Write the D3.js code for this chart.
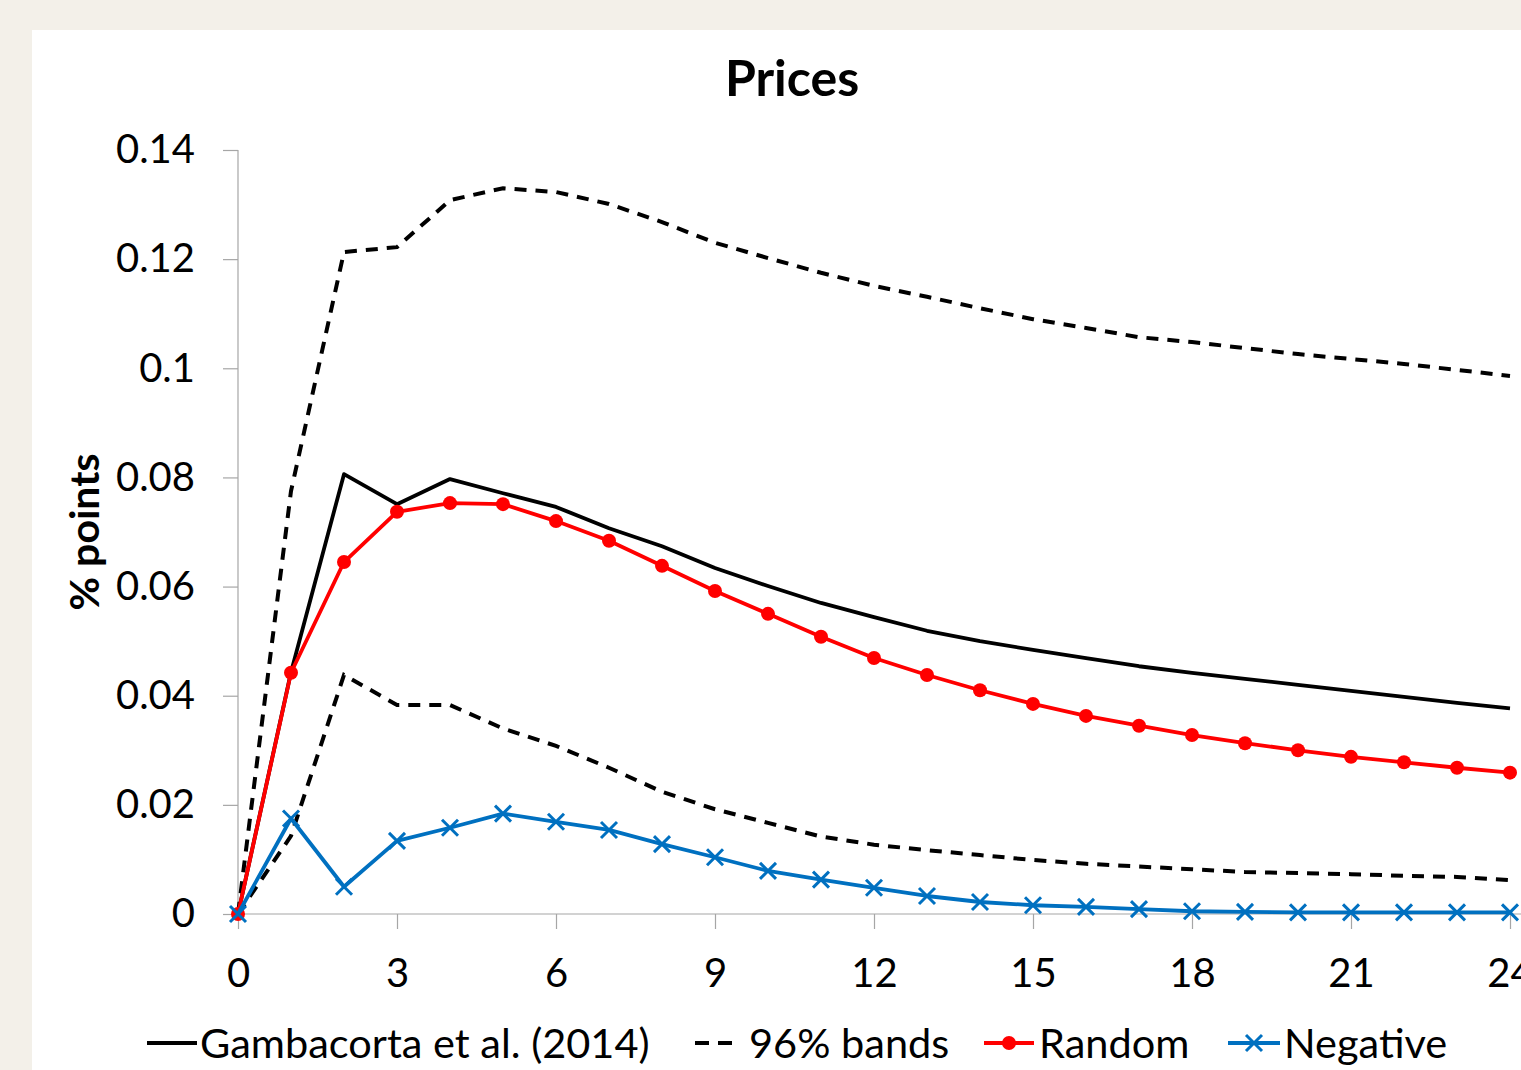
<!DOCTYPE html>
<html>
<head>
<meta charset="utf-8">
<script src="https://cdn.jsdelivr.net/npm/d3@7"></script>
<style>
  html, body { margin: 0; padding: 0; background: #f3f0e9; }
  svg { display: block; }
  text { font-family: Lato, "Open Sans", sans-serif; fill: #000; }
</style>
</head>
<body>
<svg id="chart" width="1521" height="1070"></svg>
<script>
// Impulse responses of prices, months 0..24 (% points)
const months = d3.range(0, 25);

const gambacorta = [0, 0.0443, 0.0806, 0.0751, 0.0797, 0.0771, 0.0746, 0.0707, 0.0674, 0.0634,
  0.0601, 0.0570, 0.0544, 0.0519, 0.0500, 0.0484, 0.0469, 0.0454, 0.0442, 0.0431,
  0.0420, 0.0409, 0.0398, 0.0387, 0.0377];

const bandUpper = [0, 0.0775, 0.1213, 0.1222, 0.1308, 0.1330, 0.1323, 0.1301, 0.1268, 0.1230,
  0.1202, 0.1175, 0.1151, 0.1131, 0.1110, 0.1090, 0.1074, 0.1057, 0.1048, 0.1037,
  0.1026, 0.1017, 0.1008, 0.0997, 0.0986];

const bandLower = [0, 0.0143, 0.0438, 0.0383, 0.0383, 0.0340, 0.0308, 0.0268, 0.0224, 0.0192,
  0.0167, 0.0142, 0.0127, 0.0117, 0.0108, 0.0099, 0.0092, 0.0087, 0.0082, 0.0077,
  0.0075, 0.0073, 0.0070, 0.0068, 0.0062];

const random = [0, 0.0442, 0.0645, 0.0737, 0.0753, 0.0751, 0.0720, 0.0684, 0.0638, 0.0592,
  0.0550, 0.0508, 0.0469, 0.0438, 0.0410, 0.0385, 0.0363, 0.0345, 0.0328, 0.0313,
  0.0300, 0.0288, 0.0278, 0.0268, 0.0259];

const negative = [0, 0.0175, 0.0050, 0.0134, 0.0158, 0.0184, 0.0169, 0.0154, 0.0128, 0.0104,
  0.0079, 0.0063, 0.0048, 0.0033, 0.0022, 0.0016, 0.0013, 0.0009, 0.0005, 0.0004,
  0.0003, 0.0003, 0.0003, 0.0003, 0.0003];

const xTicks = [0, 3, 6, 9, 12, 15, 18, 21, 24];
const yTicks = [0, 0.02, 0.04, 0.06, 0.08, 0.1, 0.12, 0.14];
const legendLabels = ["Gambacorta et al. (2014)", "96% bands", "Random", "Negative"];

const svg = d3.select("#chart");

// white chart area
svg.append("rect").attr("x", 32).attr("y", 30).attr("width", 1600).attr("height", 1100).attr("fill", "#fff");

const x = d3.scaleLinear().domain([0, 24]).range([238, 1510]);
const y = d3.scaleLinear().domain([0, 0.14]).range([914, 150]);

const axisColor = "#a6a6a6";

// y axis
const yAxis = svg.append("g").attr("transform", "translate(238,0)")
  .call(d3.axisLeft(y).tickValues(yTicks).tickSize(15).tickPadding(28)
    .tickFormat(d => d === 0 ? "0" : String(+d.toFixed(2))));
yAxis.select(".domain").attr("stroke", axisColor).attr("d", `M0,${y(0.14)}V${y(0)}`).attr("stroke-width", 1.2);
yAxis.selectAll(".tick line").attr("stroke", axisColor).attr("stroke-width", 1.2);
yAxis.selectAll(".tick text").attr("font-size", 40).attr("font-family", "Lato, sans-serif").attr("fill", "#000");

// x axis
const xAxis = svg.append("g").attr("transform", `translate(0,${y(0)})`)
  .call(d3.axisBottom(x).tickValues(xTicks).tickSize(15).tickPadding(30).tickFormat(d3.format("d")));
xAxis.select(".domain").attr("stroke", axisColor).attr("d", `M${x(0)},0H1521`).attr("stroke-width", 1.2);
xAxis.selectAll(".tick line").attr("stroke", axisColor).attr("stroke-width", 1.2);
xAxis.selectAll(".tick text").attr("font-size", 40).attr("font-family", "Lato, sans-serif").attr("fill", "#000");

// title
svg.append("text").attr("x", 792).attr("y", 96).attr("text-anchor", "middle")
  .attr("font-size", 50).attr("font-weight", "bold").text("Prices");

// y axis title
svg.append("text").attr("transform", "translate(99,532) rotate(-90)").attr("text-anchor", "middle")
  .attr("font-size", 41).attr("font-weight", "bold").text("% points");

const line = d3.line().x((d, i) => x(months[i])).y(d => y(d));

const plot = svg.append("g");

plot.append("path").datum(bandUpper).attr("d", line).attr("fill", "none")
  .attr("stroke", "#000").attr("stroke-width", 4).attr("stroke-dasharray", "12,9");
plot.append("path").datum(bandLower).attr("d", line).attr("fill", "none")
  .attr("stroke", "#000").attr("stroke-width", 4).attr("stroke-dasharray", "12,9");
plot.append("path").datum(gambacorta).attr("d", line).attr("fill", "none")
  .attr("stroke", "#000").attr("stroke-width", 3.8).attr("stroke-linejoin", "round");

plot.append("path").datum(random).attr("d", line).attr("fill", "none")
  .attr("stroke", "#ff0000").attr("stroke-width", 3.8).attr("stroke-linejoin", "round");
plot.selectAll(".rdot").data(random).join("circle").attr("class", "rdot")
  .attr("cx", (d, i) => x(months[i])).attr("cy", d => y(d)).attr("r", 7).attr("fill", "#ff0000");

const blue = "#0070c0";
plot.append("path").datum(negative).attr("d", line).attr("fill", "none")
  .attr("stroke", blue).attr("stroke-width", 3.8).attr("stroke-linejoin", "round");
const cross = (cx, cy, s) => `M${cx - s},${cy - s}L${cx + s},${cy + s}M${cx - s},${cy + s}L${cx + s},${cy - s}`;
plot.selectAll(".bx").data(negative).join("path").attr("class", "bx")
  .attr("d", (d, i) => cross(x(months[i]), y(d), 8)).attr("stroke", blue).attr("stroke-width", 3).attr("fill", "none");

// legend
const ly = 1043;
const lfs = 41.5;
const lg = svg.append("g");
lg.append("line").attr("x1", 147).attr("x2", 197).attr("y1", ly).attr("y2", ly).attr("stroke", "#000").attr("stroke-width", 3.8);
lg.append("text").attr("x", 200).attr("y", ly + 15).attr("font-size", lfs).text(legendLabels[0]);

lg.append("line").attr("x1", 695).attr("x2", 740).attr("y1", ly).attr("y2", ly).attr("stroke", "#000")
  .attr("stroke-width", 4).attr("stroke-dasharray", "14,9");
lg.append("text").attr("x", 749).attr("y", ly + 15).attr("font-size", lfs).text(legendLabels[1]);

lg.append("line").attr("x1", 984).attr("x2", 1034).attr("y1", ly).attr("y2", ly).attr("stroke", "#ff0000").attr("stroke-width", 3.8);
lg.append("circle").attr("cx", 1009).attr("cy", ly).attr("r", 7).attr("fill", "#ff0000");
lg.append("text").attr("x", 1039).attr("y", ly + 15).attr("font-size", lfs).text(legendLabels[2]);

lg.append("line").attr("x1", 1228).attr("x2", 1280).attr("y1", ly).attr("y2", ly).attr("stroke", blue).attr("stroke-width", 3.8);
lg.append("path").attr("d", cross(1254, ly, 8)).attr("stroke", blue).attr("stroke-width", 3);
lg.append("text").attr("x", 1284).attr("y", ly + 15).attr("font-size", lfs).text(legendLabels[3]);
</script>
</body>
</html>
